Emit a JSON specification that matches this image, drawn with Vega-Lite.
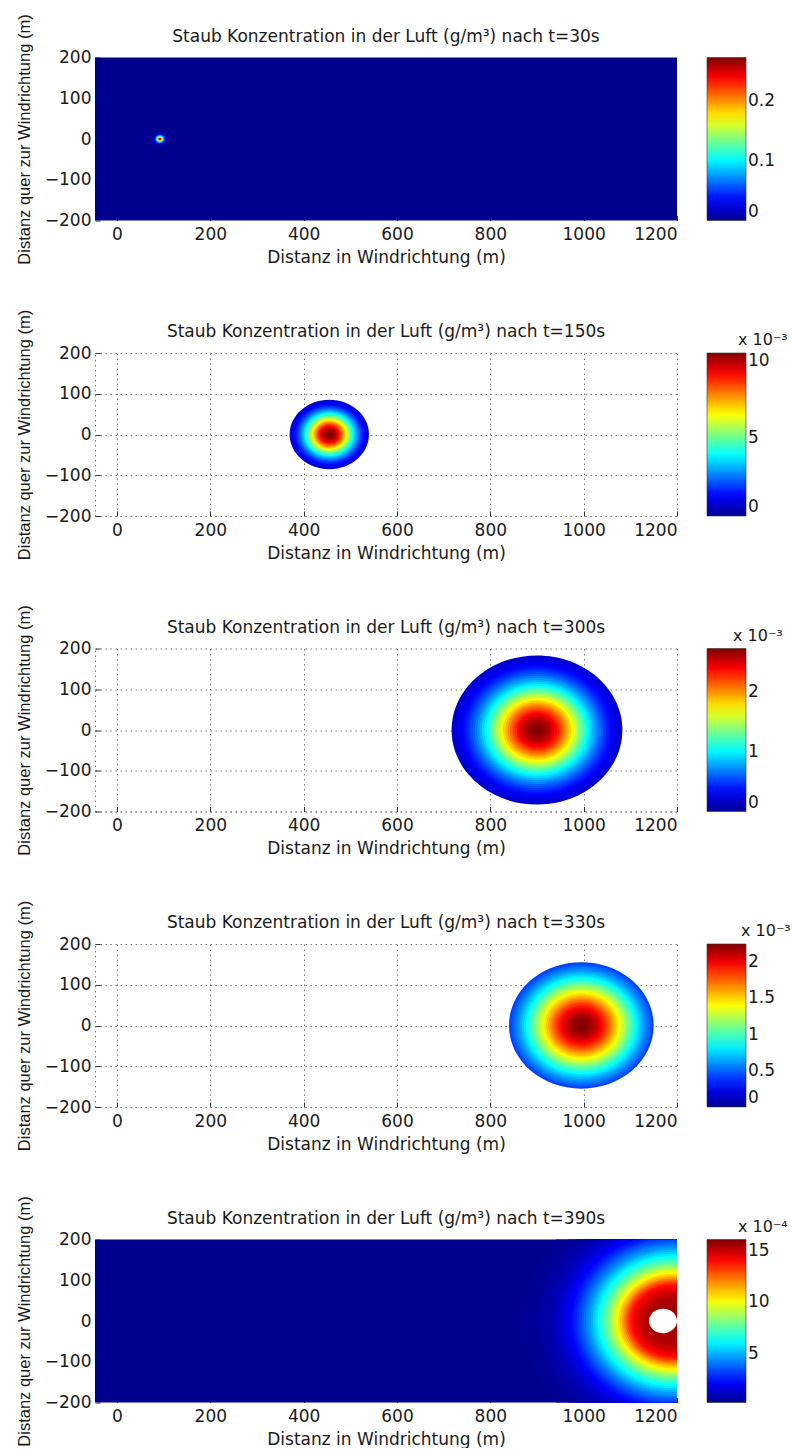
{
  "$schema": "https://vega.github.io/schema/vega-lite/v6.json",
  "background": "white",
  "padding": {"left": 16, "top": 13.5, "right": 0, "bottom": 0},
  "bounds": "flush",
  "spacing": 132.5,
  "resolve": {
    "scale": {"color": "independent", "x": "independent", "y": "independent", "size": "independent"},
    "legend": {"color": "independent"},
    "axis": {"x": "independent", "y": "independent"}
  },
  "config": {
    "font": "DejaVu Sans",
    "view": {"stroke": null},
    "axis": {
      "labelFont": "DejaVu Sans", "labelFontSize": 17, "labelColor": "#1a1a1a",
      "titleFont": "DejaVu Sans", "titleFontSize": 17, "titleFontWeight": "normal", "titleColor": "#1a1a1a",
      "grid": true, "gridColor": "#7a7a7a", "gridDash": [1.5, 3.5], "gridWidth": 1,
      "domainColor": "#7a7a7a", "domainDash": [1.5, 3.5], "domainWidth": 1,
      "tickColor": "#333333", "tickSize": -5, "tickWidth": 1, "labelPadding": 9, "format": "d"
    },
    "axisX": {"titlePadding": 7, "labelPadding": 11},
    "axisY": {"titleFont": "Liberation Sans", "titleFontSize": 16.5, "titlePadding": 12},
    "title": {"font": "DejaVu Sans", "fontSize": 17, "fontWeight": "normal", "color": "#1a1a1a", "offset": -32, "frame": "group"},
    "legend": {
      "labelFont": "DejaVu Sans", "labelFontSize": 17, "labelColor": "#1a1a1a",
      "titleFont": "DejaVu Sans", "titleFontSize": 16, "titleFontWeight": "normal", "titleColor": "#1a1a1a",
      "gradientLength": 163, "gradientThickness": 39, "gradientStrokeColor": "#333333", "gradientStrokeWidth": 0.6,
      "labelOffset": 3, "labelOverlap": false, "titlePadding": 5
    }
  },
  "vconcat": [
    {
      "width": 582, "height": 163,
      "title": "Staub Konzentration in der Luft (g/m³) nach t=30s",
      "data": {"values": [
        {"x": 92, "y": 0, "r": 2000, "c": 0},
        {"x": 92, "y": 0, "r": 15, "c": 0.012},
        {"x": 92, "y": 0, "r": 13, "c": 0.025},
        {"x": 92, "y": 0, "r": 11.5, "c": 0.04},
        {"x": 92, "y": 0, "r": 10, "c": 0.065},
        {"x": 92, "y": 0, "r": 8.5, "c": 0.095},
        {"x": 92, "y": 0, "r": 7, "c": 0.13},
        {"x": 92, "y": 0, "r": 5.5, "c": 0.17},
        {"x": 92, "y": 0, "r": 4, "c": 0.21},
        {"x": 92, "y": 0, "r": 2.5, "c": 0.245},
        {"x": 92, "y": 0, "r": 1.2, "c": 0.265}
      ]},
      "mark": {"type": "point", "shape": "M1,0C1,0.4821,0.5523,0.873,0,0.873C-0.5523,0.873,-1,0.4821,-1,0C-1,-0.4821,-0.5523,-0.873,0,-0.873C0.5523,-0.873,1,-0.4821,1,0Z", "filled": true, "opacity": 1, "strokeWidth": 0, "clip": true},
      "encoding": {
        "x": {"field": "x", "type": "quantitative", "scale": {"domain": [-47, 1200], "nice": false, "zero": false}, "axis": {"values": [0, 200, 400, 600, 800, 1000, 1200], "title": "Distanz in Windrichtung (m)", "grid": false, "domain": false}},
        "y": {"field": "y", "type": "quantitative", "scale": {"domain": [-200, 200], "nice": false, "zero": false}, "axis": {"values": [-200, -100, 0, 100, 200], "title": "Distanz quer zur Windrichtung (m)", "grid": false, "domain": false}},
        "size": {"field": "r", "type": "quantitative", "scale": {"type": "pow", "exponent": 2, "domain": [0, 2000], "range": [0, 3485280]}, "legend": null},
        "order": {"field": "r", "sort": "descending"},
        "color": {"field": "c", "type": "quantitative",
          "scale": {"domain": [0, 0.034, 0.068, 0.102, 0.136, 0.17, 0.204, 0.238, 0.272], "range": ["#00008F", "#0000FF", "#0080FF", "#00FFFF", "#80FF80", "#FFFF00", "#FF8000", "#FF0000", "#800000"], "interpolate": "rgb", "nice": false, "zero": false},
          "legend": {"orient": "none", "legendX": 612, "legendY": 0, "direction": "vertical", "values": [0, 0.1, 0.2], "format": ".2~r", "title": null, "labelBaseline": "middle"}}
      }
    },
    {
      "width": 582, "height": 163,
      "title": "Staub Konzentration in der Luft (g/m³) nach t=150s",
      "data": {"values": [
        {"x": 455, "y": 0, "r": 85, "c": 0.76},
        {"x": 455, "y": 0, "r": 82.5, "c": 0.9},
        {"x": 455, "y": 0, "r": 80, "c": 1.04},
        {"x": 455, "y": 0, "r": 77.5, "c": 1.2},
        {"x": 455, "y": 0, "r": 75, "c": 1.38},
        {"x": 455, "y": 0, "r": 72.5, "c": 1.59},
        {"x": 455, "y": 0, "r": 70, "c": 1.81},
        {"x": 455, "y": 0, "r": 67.5, "c": 2.06},
        {"x": 455, "y": 0, "r": 65, "c": 2.33},
        {"x": 455, "y": 0, "r": 62.5, "c": 2.62},
        {"x": 455, "y": 0, "r": 60, "c": 2.93},
        {"x": 455, "y": 0, "r": 57.5, "c": 3.27},
        {"x": 455, "y": 0, "r": 55, "c": 3.63},
        {"x": 455, "y": 0, "r": 52.5, "c": 4.0},
        {"x": 455, "y": 0, "r": 50, "c": 4.4},
        {"x": 455, "y": 0, "r": 47.5, "c": 4.81},
        {"x": 455, "y": 0, "r": 45, "c": 5.23},
        {"x": 455, "y": 0, "r": 42.5, "c": 5.66},
        {"x": 455, "y": 0, "r": 40, "c": 6.1},
        {"x": 455, "y": 0, "r": 37.5, "c": 6.55},
        {"x": 455, "y": 0, "r": 35, "c": 6.99},
        {"x": 455, "y": 0, "r": 32.5, "c": 7.42},
        {"x": 455, "y": 0, "r": 30, "c": 7.84},
        {"x": 455, "y": 0, "r": 27.5, "c": 8.25},
        {"x": 455, "y": 0, "r": 25, "c": 8.64},
        {"x": 455, "y": 0, "r": 22.5, "c": 9.0},
        {"x": 455, "y": 0, "r": 20, "c": 9.33},
        {"x": 455, "y": 0, "r": 17.5, "c": 9.63},
        {"x": 455, "y": 0, "r": 15, "c": 9.89},
        {"x": 455, "y": 0, "r": 12.5, "c": 10.1},
        {"x": 455, "y": 0, "r": 10, "c": 10.27},
        {"x": 455, "y": 0, "r": 7.5, "c": 10.4},
        {"x": 455, "y": 0, "r": 5, "c": 10.47},
        {"x": 455, "y": 0, "r": 2.5, "c": 10.5}
      ]},
      "mark": {"type": "point", "shape": "M1,0C1,0.4821,0.5523,0.873,0,0.873C-0.5523,0.873,-1,0.4821,-1,0C-1,-0.4821,-0.5523,-0.873,0,-0.873C0.5523,-0.873,1,-0.4821,1,0Z", "filled": true, "opacity": 1, "strokeWidth": 0, "clip": true},
      "encoding": {
        "x": {"field": "x", "type": "quantitative", "scale": {"domain": [-47, 1200], "nice": false, "zero": false}, "axis": {"values": [0, 200, 400, 600, 800, 1000, 1200], "title": "Distanz in Windrichtung (m)"}},
        "y": {"field": "y", "type": "quantitative", "scale": {"domain": [-200, 200], "nice": false, "zero": false}, "axis": {"values": [-200, -100, 0, 100, 200], "title": "Distanz quer zur Windrichtung (m)"}},
        "size": {"field": "r", "type": "quantitative", "scale": {"type": "pow", "exponent": 2, "domain": [0, 2000], "range": [0, 3485280]}, "legend": null},
        "order": {"field": "r", "sort": "descending"},
        "color": {"field": "c", "type": "quantitative",
          "scale": {"domain": [0, 1.3125, 2.625, 3.9375, 5.25, 6.5625, 7.875, 9.1875, 10.5], "range": ["#00008F", "#0000FF", "#0080FF", "#00FFFF", "#80FF80", "#FFFF00", "#FF8000", "#FF0000", "#800000"], "interpolate": "rgb", "nice": false, "zero": false},
          "legend": {"orient": "none", "legendX": 612, "legendY": -21, "direction": "vertical", "values": [0, 5, 10], "format": ".2~r", "title": "x 10⁻³", "titleAnchor": "middle", "titleAlign": "left", "labelBaseline": "middle"}}
      }
    },
    {
      "width": 582, "height": 163,
      "title": "Staub Konzentration in der Luft (g/m³) nach t=300s",
      "data": {"values": [
        {"x": 900, "y": 0, "r": 183, "c": 0.187},
        {"x": 900, "y": 0, "r": 178, "c": 0.216},
        {"x": 900, "y": 0, "r": 173, "c": 0.249},
        {"x": 900, "y": 0, "r": 168, "c": 0.286},
        {"x": 900, "y": 0, "r": 163, "c": 0.328},
        {"x": 900, "y": 0, "r": 158, "c": 0.373},
        {"x": 900, "y": 0, "r": 153, "c": 0.423},
        {"x": 900, "y": 0, "r": 148, "c": 0.477},
        {"x": 900, "y": 0, "r": 143, "c": 0.537},
        {"x": 900, "y": 0, "r": 138, "c": 0.602},
        {"x": 900, "y": 0, "r": 133, "c": 0.671},
        {"x": 900, "y": 0, "r": 128, "c": 0.746},
        {"x": 900, "y": 0, "r": 123, "c": 0.825},
        {"x": 900, "y": 0, "r": 118, "c": 0.909},
        {"x": 900, "y": 0, "r": 113, "c": 0.997},
        {"x": 900, "y": 0, "r": 108, "c": 1.09},
        {"x": 900, "y": 0, "r": 103, "c": 1.186},
        {"x": 900, "y": 0, "r": 98, "c": 1.285},
        {"x": 900, "y": 0, "r": 93, "c": 1.388},
        {"x": 900, "y": 0, "r": 88, "c": 1.492},
        {"x": 900, "y": 0, "r": 83, "c": 1.597},
        {"x": 900, "y": 0, "r": 78, "c": 1.703},
        {"x": 900, "y": 0, "r": 73, "c": 1.808},
        {"x": 900, "y": 0, "r": 68, "c": 1.912},
        {"x": 900, "y": 0, "r": 63, "c": 2.013},
        {"x": 900, "y": 0, "r": 58, "c": 2.112},
        {"x": 900, "y": 0, "r": 53, "c": 2.206},
        {"x": 900, "y": 0, "r": 48, "c": 2.295},
        {"x": 900, "y": 0, "r": 43, "c": 2.377},
        {"x": 900, "y": 0, "r": 38, "c": 2.452},
        {"x": 900, "y": 0, "r": 33, "c": 2.52},
        {"x": 900, "y": 0, "r": 28, "c": 2.579},
        {"x": 900, "y": 0, "r": 23, "c": 2.628},
        {"x": 900, "y": 0, "r": 18, "c": 2.667},
        {"x": 900, "y": 0, "r": 13, "c": 2.696},
        {"x": 900, "y": 0, "r": 8, "c": 2.713},
        {"x": 900, "y": 0, "r": 3, "c": 2.72}
      ]},
      "mark": {"type": "point", "shape": "M1,0C1,0.4821,0.5523,0.873,0,0.873C-0.5523,0.873,-1,0.4821,-1,0C-1,-0.4821,-0.5523,-0.873,0,-0.873C0.5523,-0.873,1,-0.4821,1,0Z", "filled": true, "opacity": 1, "strokeWidth": 0, "clip": true},
      "encoding": {
        "x": {"field": "x", "type": "quantitative", "scale": {"domain": [-47, 1200], "nice": false, "zero": false}, "axis": {"values": [0, 200, 400, 600, 800, 1000, 1200], "title": "Distanz in Windrichtung (m)"}},
        "y": {"field": "y", "type": "quantitative", "scale": {"domain": [-200, 200], "nice": false, "zero": false}, "axis": {"values": [-200, -100, 0, 100, 200], "title": "Distanz quer zur Windrichtung (m)"}},
        "size": {"field": "r", "type": "quantitative", "scale": {"type": "pow", "exponent": 2, "domain": [0, 2000], "range": [0, 3485280]}, "legend": null},
        "order": {"field": "r", "sort": "descending"},
        "color": {"field": "c", "type": "quantitative",
          "scale": {"domain": [0, 0.34, 0.68, 1.02, 1.36, 1.7, 2.04, 2.38, 2.72], "range": ["#00008F", "#0000FF", "#0080FF", "#00FFFF", "#80FF80", "#FFFF00", "#FF8000", "#FF0000", "#800000"], "interpolate": "rgb", "nice": false, "zero": false},
          "legend": {"orient": "none", "legendX": 612, "legendY": -21, "direction": "vertical", "values": [0, 1, 2], "format": ".2~r", "title": "x 10⁻³", "titleAnchor": "middle", "titleAlign": "left", "labelBaseline": "middle"}}
      }
    },
    {
      "width": 582, "height": 163,
      "title": "Staub Konzentration in der Luft (g/m³) nach t=330s",
      "data": {"values": [
        {"x": 995, "y": 0, "r": 155, "c": 0.423},
        {"x": 995, "y": 0, "r": 151, "c": 0.461},
        {"x": 995, "y": 0, "r": 147, "c": 0.501},
        {"x": 995, "y": 0, "r": 143, "c": 0.544},
        {"x": 995, "y": 0, "r": 139, "c": 0.589},
        {"x": 995, "y": 0, "r": 135, "c": 0.636},
        {"x": 995, "y": 0, "r": 131, "c": 0.685},
        {"x": 995, "y": 0, "r": 127, "c": 0.737},
        {"x": 995, "y": 0, "r": 123, "c": 0.791},
        {"x": 995, "y": 0, "r": 119, "c": 0.846},
        {"x": 995, "y": 0, "r": 115, "c": 0.904},
        {"x": 995, "y": 0, "r": 111, "c": 0.963},
        {"x": 995, "y": 0, "r": 107, "c": 1.024},
        {"x": 995, "y": 0, "r": 103, "c": 1.086},
        {"x": 995, "y": 0, "r": 99, "c": 1.149},
        {"x": 995, "y": 0, "r": 95, "c": 1.213},
        {"x": 995, "y": 0, "r": 91, "c": 1.278},
        {"x": 995, "y": 0, "r": 87, "c": 1.343},
        {"x": 995, "y": 0, "r": 83, "c": 1.408},
        {"x": 995, "y": 0, "r": 79, "c": 1.473},
        {"x": 995, "y": 0, "r": 75, "c": 1.538},
        {"x": 995, "y": 0, "r": 71, "c": 1.601},
        {"x": 995, "y": 0, "r": 67, "c": 1.664},
        {"x": 995, "y": 0, "r": 63, "c": 1.725},
        {"x": 995, "y": 0, "r": 59, "c": 1.784},
        {"x": 995, "y": 0, "r": 55, "c": 1.841},
        {"x": 995, "y": 0, "r": 51, "c": 1.895},
        {"x": 995, "y": 0, "r": 47, "c": 1.947},
        {"x": 995, "y": 0, "r": 43, "c": 1.995},
        {"x": 995, "y": 0, "r": 39, "c": 2.04},
        {"x": 995, "y": 0, "r": 35, "c": 2.082},
        {"x": 995, "y": 0, "r": 31, "c": 2.119},
        {"x": 995, "y": 0, "r": 27, "c": 2.152},
        {"x": 995, "y": 0, "r": 23, "c": 2.18},
        {"x": 995, "y": 0, "r": 19, "c": 2.204},
        {"x": 995, "y": 0, "r": 15, "c": 2.223},
        {"x": 995, "y": 0, "r": 11, "c": 2.237},
        {"x": 995, "y": 0, "r": 7, "c": 2.246},
        {"x": 995, "y": 0, "r": 3, "c": 2.25}
      ]},
      "mark": {"type": "point", "shape": "M1,0C1,0.4821,0.5523,0.873,0,0.873C-0.5523,0.873,-1,0.4821,-1,0C-1,-0.4821,-0.5523,-0.873,0,-0.873C0.5523,-0.873,1,-0.4821,1,0Z", "filled": true, "opacity": 1, "strokeWidth": 0, "clip": true},
      "encoding": {
        "x": {"field": "x", "type": "quantitative", "scale": {"domain": [-47, 1200], "nice": false, "zero": false}, "axis": {"values": [0, 200, 400, 600, 800, 1000, 1200], "title": "Distanz in Windrichtung (m)"}},
        "y": {"field": "y", "type": "quantitative", "scale": {"domain": [-200, 200], "nice": false, "zero": false}, "axis": {"values": [-200, -100, 0, 100, 200], "title": "Distanz quer zur Windrichtung (m)"}},
        "size": {"field": "r", "type": "quantitative", "scale": {"type": "pow", "exponent": 2, "domain": [0, 2000], "range": [0, 3485280]}, "legend": null},
        "order": {"field": "r", "sort": "descending"},
        "color": {"field": "c", "type": "quantitative",
          "scale": {"domain": [0, 0.28125, 0.5625, 0.84375, 1.125, 1.40625, 1.6875, 1.96875, 2.25], "range": ["#00008F", "#0000FF", "#0080FF", "#00FFFF", "#80FF80", "#FFFF00", "#FF8000", "#FF0000", "#800000"], "interpolate": "rgb", "nice": false, "zero": false},
          "legend": {"orient": "none", "legendX": 612, "legendY": -21, "direction": "vertical", "values": [0, 0.5, 1, 1.5, 2], "format": ".2~r", "title": "x 10⁻³", "titleAnchor": "middle", "titleAlign": "left", "labelBaseline": "middle"}}
      }
    },
    {
      "width": 582, "height": 163,
      "title": "Staub Konzentration in der Luft (g/m³) nach t=390s",
      "encoding": {
        "x": {"field": "x", "type": "quantitative", "scale": {"domain": [-47, 1200], "nice": false, "zero": false}, "axis": {"values": [0, 200, 400, 600, 800, 1000, 1200], "title": "Distanz in Windrichtung (m)", "grid": false, "domain": false}},
        "y": {"field": "y", "type": "quantitative", "scale": {"domain": [-200, 200], "nice": false, "zero": false}, "axis": {"values": [-200, -100, 0, 100, 200], "title": "Distanz quer zur Windrichtung (m)", "grid": false, "domain": false}},
        "size": {"field": "r", "type": "quantitative", "scale": {"type": "pow", "exponent": 2, "domain": [0, 2000], "range": [0, 3485280]}, "legend": null}
      },
      "layer": [
        {
          "data": {"values": [
            {"x": 1190, "y": 0, "r": 2000, "c": 0.3},
            {"x": 1190, "y": 0, "r": 320, "c": 0.38},
            {"x": 1190, "y": 0, "r": 300, "c": 0.48},
            {"x": 1190, "y": 0, "r": 287, "c": 0.6},
            {"x": 1190, "y": 0, "r": 275, "c": 0.72},
            {"x": 1190, "y": 0, "r": 266, "c": 0.86},
            {"x": 1190, "y": 0, "r": 258, "c": 1.0},
            {"x": 1190, "y": 0, "r": 251, "c": 1.2},
            {"x": 1190, "y": 0, "r": 244, "c": 1.4},
            {"x": 1190, "y": 0, "r": 238, "c": 1.6},
            {"x": 1190, "y": 0, "r": 232, "c": 1.8},
            {"x": 1190, "y": 0, "r": 226, "c": 2.05},
            {"x": 1190, "y": 0, "r": 221, "c": 2.3},
            {"x": 1190, "y": 0, "r": 215, "c": 2.55},
            {"x": 1190, "y": 0, "r": 210, "c": 2.8},
            {"x": 1190, "y": 0, "r": 205, "c": 3.1},
            {"x": 1190, "y": 0, "r": 200, "c": 3.4},
            {"x": 1190, "y": 0, "r": 195, "c": 3.7},
            {"x": 1190, "y": 0, "r": 190, "c": 4.0},
            {"x": 1190, "y": 0, "r": 185, "c": 4.35},
            {"x": 1190, "y": 0, "r": 180, "c": 4.7},
            {"x": 1190, "y": 0, "r": 175, "c": 5.1},
            {"x": 1190, "y": 0, "r": 170, "c": 5.5},
            {"x": 1190, "y": 0, "r": 165, "c": 5.9},
            {"x": 1190, "y": 0, "r": 160, "c": 6.3},
            {"x": 1190, "y": 0, "r": 155, "c": 6.75},
            {"x": 1190, "y": 0, "r": 150, "c": 7.2},
            {"x": 1190, "y": 0, "r": 145.5, "c": 7.6},
            {"x": 1190, "y": 0, "r": 141, "c": 8.0},
            {"x": 1190, "y": 0, "r": 136.5, "c": 8.45},
            {"x": 1190, "y": 0, "r": 132, "c": 8.9},
            {"x": 1190, "y": 0, "r": 128, "c": 9.35},
            {"x": 1190, "y": 0, "r": 124, "c": 9.8},
            {"x": 1190, "y": 0, "r": 120, "c": 10.25},
            {"x": 1190, "y": 0, "r": 116, "c": 10.7},
            {"x": 1190, "y": 0, "r": 112, "c": 11.2},
            {"x": 1190, "y": 0, "r": 108, "c": 11.7},
            {"x": 1190, "y": 0, "r": 104, "c": 12.25},
            {"x": 1190, "y": 0, "r": 100, "c": 12.8},
            {"x": 1190, "y": 0, "r": 96, "c": 13.25},
            {"x": 1190, "y": 0, "r": 92, "c": 13.7},
            {"x": 1190, "y": 0, "r": 87.5, "c": 14.05},
            {"x": 1190, "y": 0, "r": 83, "c": 14.35},
            {"x": 1190, "y": 0, "r": 77.5, "c": 14.65},
            {"x": 1190, "y": 0, "r": 72, "c": 14.9},
            {"x": 1190, "y": 0, "r": 66, "c": 15.1},
            {"x": 1190, "y": 0, "r": 60, "c": 15.3},
            {"x": 1190, "y": 0, "r": 53, "c": 15.4},
            {"x": 1190, "y": 0, "r": 46, "c": 15.5}
          ]},
          "mark": {"type": "point", "shape": "M1,0C1,0.4821,0.5523,0.873,0,0.873C-0.5523,0.873,-1,0.4821,-1,0C-1,-0.4821,-0.5523,-0.873,0,-0.873C0.5523,-0.873,1,-0.4821,1,0Z", "filled": true, "opacity": 1, "strokeWidth": 0, "clip": true},
          "encoding": {
            "order": {"field": "r", "sort": "descending"},
            "color": {"field": "c", "type": "quantitative",
              "scale": {"domain": [0.3, 2.275, 4.25, 6.225, 8.2, 10.175, 12.15, 14.125, 16.1], "range": ["#00008F", "#0000FF", "#0080FF", "#00FFFF", "#80FF80", "#FFFF00", "#FF8000", "#FF0000", "#800000"], "interpolate": "rgb", "nice": false, "zero": false},
              "legend": {"orient": "none", "legendX": 612, "legendY": -21, "direction": "vertical", "values": [5, 10, 15], "format": ".2~r", "title": "x 10⁻⁴", "titleAnchor": "middle", "titleAlign": "left", "labelBaseline": "middle"}}
          }
        },
        {
          "data": {"values": [
            {"x": 1170, "y": 0, "r": 30}
          ]},
          "mark": {"type": "point", "shape": "M1,0C1,0.4821,0.5523,0.873,0,0.873C-0.5523,0.873,-1,0.4821,-1,0C-1,-0.4821,-0.5523,-0.873,0,-0.873C0.5523,-0.873,1,-0.4821,1,0Z", "filled": true, "fill": "white", "opacity": 1, "strokeWidth": 0, "clip": true}
        }
      ]
    }
  ]
}
